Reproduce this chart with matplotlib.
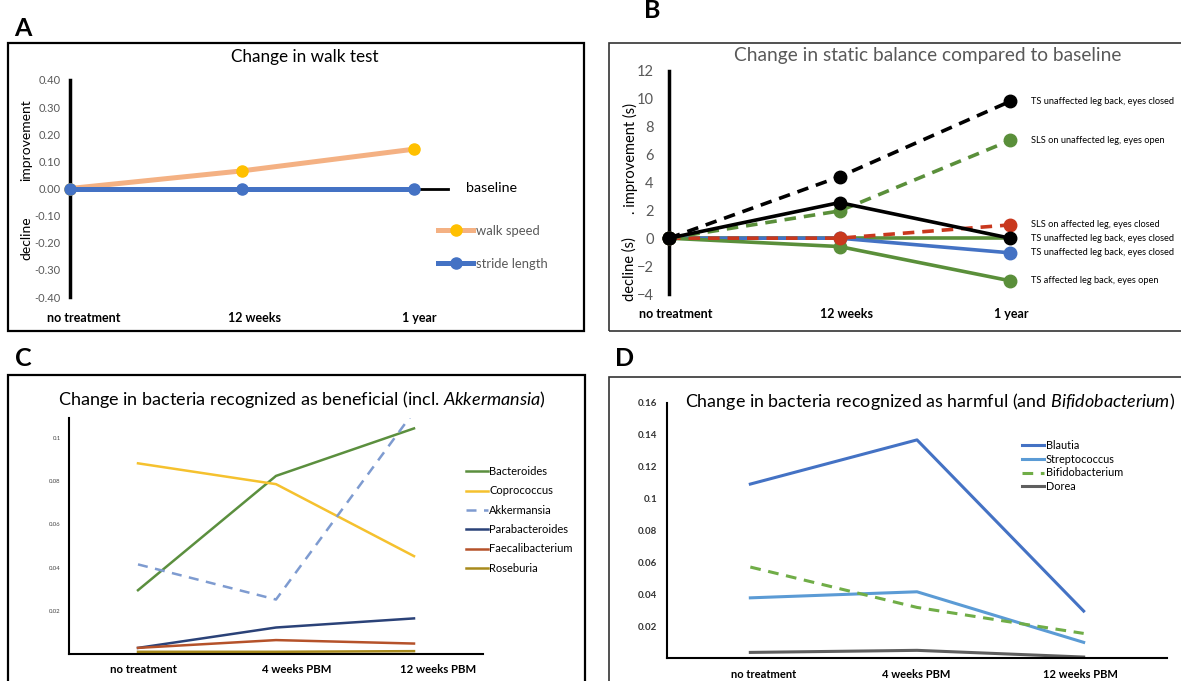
import matplotlib
matplotlib.use('Agg')
import matplotlib.pyplot as plt
import matplotlib.transforms as mtrans
from matplotlib.patches import Rectangle

plt.rcParams['font.family'] = ['Lato', 'DejaVu Sans']
plt.rcParams['mathtext.fontset'] = 'custom'
plt.rcParams['mathtext.rm'] = 'Lato'
plt.rcParams['mathtext.it'] = 'Lato:italic'

# --- data ---
walk_times = ['no treatment', '12 weeks', '1 year']
walk_speed = [0.0, 0.065, 0.145]
stride_length = [0.0, 0.0, 0.0]
walk_yticks = [-0.4, -0.3, -0.2, -0.1, 0.0, 0.1, 0.2, 0.3, 0.4]

balance_yticks = [-4, -2, 0, 2, 4, 6, 8, 10, 12]
bal_flat_green = [0, 0, 0]
bal_blue = [0, 0, -1.05]
bal_green_solid = [0, -0.6, -3.05]
bal_red_dashed = [0, 0, 0.95]
bal_black_solid = [0, 2.55, 0]
bal_green_dashed = [0, 1.95, 7.0]
bal_black_dashed = [0, 4.4, 9.8]
bal_labels = {
    'black_dashed': 'TS unaffected leg back, eyes closed',
    'green_dashed': 'SLS on unaffected leg, eyes open',
    'red_dashed': 'SLS on affected leg, eyes closed',
    'black_solid': 'TS unaffected leg back, eyes closed',
    'blue': 'TS unaffected leg back, eyes closed',
    'green_solid': 'TS affected leg back, eyes open',
}

pbm_times = ['no treatment', '4 weeks PBM', '12 weeks PBM']
bacteroides = [0.0296, 0.0823, 0.1042]
coprococcus = [0.0881, 0.0785, 0.0453]
akkermansia = [0.0415, 0.0253, 0.112]
parabacteroides = [0.0030, 0.0124, 0.0166]
faecalibacterium = [0.0030, 0.0066, 0.0050]
roseburia = [0.0012, 0.0012, 0.0015]
benef_yticks = [0.02, 0.04, 0.06, 0.08, 0.1]
benef_ylabels = ['0.02', '0.04', '0.06', '0.08', '0.1']

blautia = [0.109, 0.1367, 0.0294]
streptococcus = [0.0377, 0.0415, 0.0098]
bifidobacterium = [0.057, 0.0317, 0.0154]
dorea = [0.0035, 0.0048, 0.0006]
harm_yticks = [0.02, 0.04, 0.06, 0.08, 0.1, 0.12, 0.14, 0.16]
harm_ylabels = ['0.02', '0.04', '0.06', '0.08', '0.1', '0.12', '0.14', '0.16']

W, H = 1181, 681
fig = plt.figure(figsize=(W / 100, H / 100), dpi=100)


def px_axes(x0, y0, x1, y1):
    return fig.add_axes([x0 / W, 1 - y1 / H, (x1 - x0) / W, (y1 - y0) / H])


def box(x0, y0, x1, y1, lw, color):
    fig.patches.append(Rectangle((x0 / W, 1 - y1 / H), (x1 - x0) / W, (y1 - y0) / H,
                                 transform=fig.transFigure, fill=False,
                                 lw=lw, edgecolor=color))


def ftext(x, y, s, **kw):
    kw.setdefault('ha', 'center')
    kw.setdefault('va', 'center')
    return fig.text(x / W, 1 - y / H, s, **kw)


def shift_xlabels(ax, shifts):
    for lbl, dx in zip(ax.get_xticklabels(), shifts):
        lbl.set_transform(lbl.get_transform() +
                          mtrans.ScaledTranslation(dx / 100, 0, fig.dpi_scale_trans))


def only_spines(ax, keep, lw, color='black'):
    for name, sp in ax.spines.items():
        if name in keep:
            sp.set_linewidth(lw)
            sp.set_color(color)
        else:
            sp.set_visible(False)


# panel frames
box(8, 43, 584, 331, 1.6, 'black')
box(609, 43, 1200, 331, 1.2, '#333333')
box(8, 375, 585, 700, 1.6, 'black')
box(609, 377, 1200, 700, 1.2, '#333333')

for x, y, s in [(23, 28, 'A'), (652, 11, 'B'), (23, 358, 'C'), (625, 358, 'D')]:
    ftext(x, y, s, fontsize=18, fontweight='bold')

# ---------- A: walk test ----------
axA = px_axes(70, 80, 414, 297)
axA.set_xlim(0, 2)
axA.set_ylim(-0.4, 0.4)
only_spines(axA, ['left'], 2.5)
xs = range(len(walk_times))
axA.plot(xs, walk_speed, color='#F4B183', lw=3.6, marker='o', ms=8,
         mfc='#FFC000', mec='#FFC000', clip_on=False, zorder=3, label='walk speed')
axA.plot(xs, stride_length, color='#4472C4', lw=3.6, marker='o', ms=8,
         clip_on=False, zorder=4, label='stride length')
axA.plot([2, 2.2], [0, 0], color='black', lw=2, clip_on=False, zorder=2)
axA.text(2.30, 0, 'baseline', fontsize=10.3, va='center', ha='left')
axA.set_yticks(walk_yticks)
axA.set_yticklabels(['%.2f' % (round(v, 2) + 0.0) for v in walk_yticks])
axA.tick_params(axis='y', length=0, pad=7, labelsize=8, labelcolor='#595959')
axA.set_xticks(list(xs))
axA.set_xticklabels(walk_times, fontweight='bold', fontsize=9)
axA.tick_params(axis='x', length=0, pad=11)
shift_xlabels(axA, [14, 13, 5])
axA.legend(loc='center left', bbox_to_anchor=(438 / W, 1 - 247.5 / H),
           bbox_transform=fig.transFigure, frameon=False, fontsize=9.4,
           labelcolor='#595959', handlelength=2.7, handletextpad=0.2,
           labelspacing=1.6, borderpad=0, borderaxespad=0)
ftext(305, 57, 'Change in walk test', fontsize=12.3)
ftext(26, 140, 'improvement', fontsize=10, rotation=90)
ftext(26, 238, 'decline', fontsize=10, rotation=90)

# ---------- B: static balance ----------
axB = px_axes(669, 70.7, 1010, 294)
axB.set_xlim(0, 2)
axB.set_ylim(-4, 12)
only_spines(axB, ['left'], 2.5)
green = '#5A8F3A'
bstyle = dict(lw=2.6, marker='o', ms=9, clip_on=False)
dash = (3.2, 2.2)
axB.plot(xs, bal_flat_green, color=green, lw=2.6, clip_on=False, zorder=2)
axB.plot(xs, bal_blue, color='#4472C4', zorder=3, **bstyle)
axB.plot(xs, bal_green_solid, color=green, zorder=3, **bstyle)
axB.plot(xs, bal_red_dashed, color='#C9381E', dashes=dash, zorder=4, **bstyle)
axB.plot(xs, bal_black_solid, color='black', zorder=5, **bstyle)
axB.plot(xs, bal_green_dashed, color=green, dashes=dash, zorder=4, **bstyle)
axB.plot(xs, bal_black_dashed, color='black', dashes=dash, zorder=4, **bstyle)
for key, series in [('black_dashed', bal_black_dashed), ('green_dashed', bal_green_dashed),
                    ('red_dashed', bal_red_dashed), ('black_solid', bal_black_solid),
                    ('blue', bal_blue), ('green_solid', bal_green_solid)]:
    axB.text(2.123, series[-1], bal_labels[key], fontsize=6.7, va='center', ha='left')
axB.set_yticks(balance_yticks)
axB.tick_params(axis='y', length=0, pad=11, labelsize=10.5, labelcolor='#595959')
axB.set_xticks(list(xs))
axB.set_xticklabels(walk_times, fontweight='bold', fontsize=9)
axB.tick_params(axis='x', length=0, pad=10)
shift_xlabels(axB, [7, 7, 1])
ftext(928, 55, 'Change in static balance compared to baseline', fontsize=13.8, color='#595959')
ftext(630, 158, '. improvement (s)', fontsize=10.5, rotation=90)
ftext(630, 269, 'decline (s)', fontsize=10.5, rotation=90)

# ---------- C: beneficial bacteria ----------
axC = px_axes(69, 418, 483, 654.4)
axC.set_xlim(-0.5, 2.5)
axC.set_ylim(0, 0.109)
only_spines(axC, ['left', 'bottom'], 1.5)
lwC = 1.8
axC.plot(xs, bacteroides, color='#5B8F3E', lw=lwC, clip_on=False, label='Bacteroides')
axC.plot(xs, coprococcus, color='#F5C12E', lw=lwC, clip_on=False, label='Coprococcus')
axC.plot(xs, akkermansia, color='#7E9BD0', lw=lwC, dashes=(4, 3), label='Akkermansia')
axC.plot(xs, parabacteroides, color='#2B4278', lw=lwC, clip_on=False, label='Parabacteroides')
axC.plot(xs, faecalibacterium, color='#B5522A', lw=lwC, clip_on=False, label='Faecalibacterium')
axC.plot(xs, roseburia, color='#A88A1C', lw=lwC, clip_on=False, label='Roseburia')
axC.set_yticks(benef_yticks)
axC.set_yticklabels(benef_ylabels)
axC.tick_params(axis='y', length=0, pad=6, labelsize=4.3, labelcolor='#444444')
axC.set_xticks(list(xs))
axC.set_xticklabels(pbm_times, fontweight='bold', fontsize=8.2)
axC.tick_params(axis='x', length=0, pad=7)
shift_xlabels(axC, [5, 21, 24])
axC.legend(loc='center left', bbox_to_anchor=(466 / W, 1 - 520 / H),
           bbox_transform=fig.transFigure, frameon=False, fontsize=8,
           handlelength=2.0, handletextpad=0.1, labelspacing=0.75,
           borderpad=0, borderaxespad=0)
ftext(302, 400, 'Change in bacteria recognized as beneficial (incl. $\\mathit{Akkermansia}$)',
      fontsize=13)

# ---------- D: harmful bacteria ----------
axD = px_axes(667, 402.7, 1167, 658)
axD.set_xlim(-0.5, 2.5)
axD.set_ylim(0, 0.16)
only_spines(axD, ['left', 'bottom'], 1.5)
lwD = 2.2
axD.plot(xs, blautia, color='#4472C4', lw=lwD, clip_on=False, label='Blautia')
axD.plot(xs, streptococcus, color='#5B9BD5', lw=lwD, clip_on=False, label='Streptococcus')
axD.plot(xs, bifidobacterium, color='#70AD47', lw=lwD, dashes=(3.5, 2.5), clip_on=False,
         label='Bifidobacterium')
axD.plot(xs, dorea, color='#5F5F5F', lw=lwD, clip_on=False, label='Dorea')
axD.set_yticks(harm_yticks)
axD.set_yticklabels(harm_ylabels)
axD.tick_params(axis='y', length=0, pad=7, labelsize=7, labelcolor='#333333')
for lbl in axD.get_yticklabels():
    lbl.set_fontweight('bold')
axD.set_xticks(list(xs))
axD.set_xticklabels(pbm_times, fontweight='bold', fontsize=8)
axD.tick_params(axis='x', length=0, pad=8)
shift_xlabels(axD, [13, -1, -3])
axD.legend(loc='center left', bbox_to_anchor=(1022 / W, 1 - 466 / H),
           bbox_transform=fig.transFigure, frameon=False, fontsize=7.8,
           handlelength=2.0, handletextpad=0.2, labelspacing=0.25,
           borderpad=0, borderaxespad=0)
ftext(930, 402, 'Change in bacteria recognized as harmful (and $\\mathit{Bifidobacterium}$)',
      fontsize=12.9)

fig.savefig('out.png', dpi=100)
